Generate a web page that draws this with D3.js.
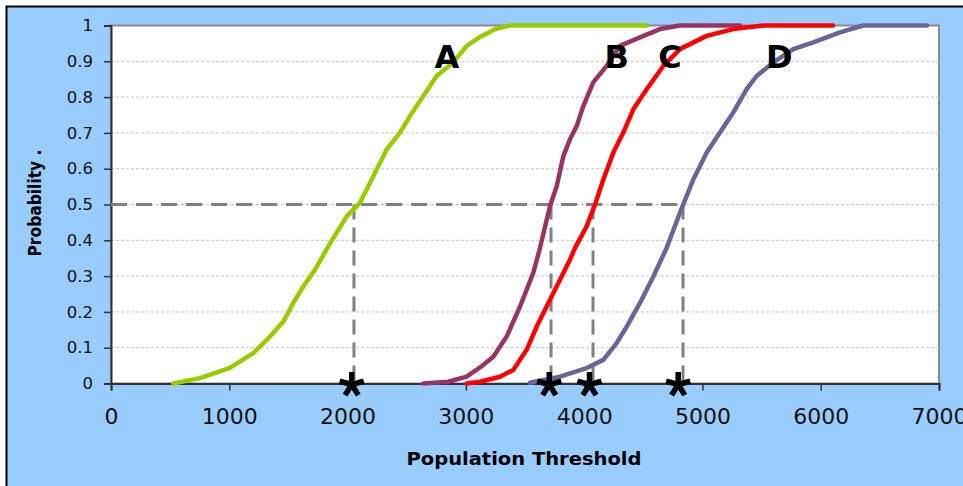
<!DOCTYPE html>
<html>
<head>
<meta charset="utf-8">
<script src="https://cdn.jsdelivr.net/npm/d3@7"></script>
<style>
html,body{margin:0;padding:0;background:#fff;overflow:hidden;}
svg{display:block;}
</style>
</head>
<body>
<svg id="chart" width="963" height="486"></svg>
<script>
// ---- data ----
const xTicks = [0, 1000, 2000, 3000, 4000, 5000, 6000, 7000];
const yTicks = [0, 0.1, 0.2, 0.3, 0.4, 0.5, 0.6, 0.7, 0.8, 0.9, 1];
const seriesNames = ["A", "B", "C", "D"];
const seriesColors = ["#99CC00", "#993366", "#FF0000", "#666699"];

const aX = [527, 752, 1000, 1203, 1344, 1457, 1541, 1626, 1725, 1837, 1993, 2105, 2218, 2331, 2443, 2528, 2640, 2753, 2894, 3007, 3120, 3250, 3373, 4531];
const aP = [0.00, 0.015, 0.043, 0.085, 0.131, 0.173, 0.225, 0.271, 0.318, 0.383, 0.467, 0.505, 0.579, 0.654, 0.701, 0.747, 0.803, 0.859, 0.897, 0.943, 0.968, 0.99, 1.0, 1.0];

const bX = [2640, 2850, 3007, 3120, 3232, 3345, 3458, 3570, 3627, 3711, 3768, 3824, 3880, 3937, 3993, 4077, 4190, 4303, 4472, 4641, 4810, 5318];
const bP = [0.00, 0.005, 0.019, 0.045, 0.075, 0.131, 0.215, 0.309, 0.379, 0.495, 0.551, 0.635, 0.682, 0.719, 0.775, 0.841, 0.887, 0.943, 0.967, 0.990, 1.0, 1.0];

const cX = [3007, 3120, 3289, 3401, 3514, 3599, 3683, 3796, 3880, 3923, 4021, 4092, 4162, 4247, 4331, 4416, 4529, 4669, 4810, 5036, 5261, 5515, 6104];
const cP = [0.00, 0.005, 0.019, 0.038, 0.094, 0.159, 0.215, 0.290, 0.346, 0.379, 0.439, 0.500, 0.570, 0.645, 0.701, 0.766, 0.822, 0.887, 0.934, 0.971, 0.990, 1.0, 1.0];

const dX = [3542, 3796, 4021, 4162, 4275, 4360, 4472, 4585, 4698, 4810, 4923, 5036, 5148, 5261, 5374, 5458, 5600, 5768, 5937, 6163, 6360, 6898];
const dP = [0.002, 0.019, 0.043, 0.066, 0.113, 0.159, 0.225, 0.299, 0.379, 0.477, 0.570, 0.645, 0.701, 0.757, 0.822, 0.859, 0.897, 0.934, 0.953, 0.981, 1.0, 1.0];

const medianX = [2054, 3720, 4075, 4836];   // dashed drop lines at p = 0.5
const starX = [2035, 3705, 4045, 4795];     // asterisk markers on the axis
const labelX = [2840, 4275, 4725, 5650];    // letter label positions
const labelP = [0.915, 0.915, 0.915, 0.915];
const medianP = 0.5;

const xTitle = "Population Threshold";
const yTitle = "Probability .";

// ---- drawing ----
const svg = d3.select("#chart");
const W = 963, H = 486;
const L = 111, R = 939, T = 25.5, B = 383.5;

const x = d3.scaleLinear().domain([0, 7000]).range([L, R]);
const y = d3.scaleLinear().domain([0, 1]).range([B, T]);

// outer frame
svg.append("rect").attr("x", 0).attr("y", 0).attr("width", W).attr("height", H).attr("fill", "#fff");
svg.append("rect").attr("x", 6.5).attr("y", 6.5).attr("width", W + 20).attr("height", H + 20)
  .attr("fill", "#99CCFF").attr("stroke", "#000").attr("stroke-width", 2);

// plot area
svg.append("rect").attr("x", L).attr("y", T).attr("width", R - L).attr("height", B - T)
  .attr("fill", "#fff").attr("stroke", "#8a8a8a").attr("stroke-width", 2);

// gridlines
svg.append("g").selectAll("line").data(yTicks.filter(d => d > 0 && d < 1)).join("line")
  .attr("x1", L).attr("x2", R).attr("y1", d => y(d)).attr("y2", d => y(d))
  .attr("stroke", "#c4c4c4").attr("stroke-width", 1).attr("stroke-dasharray", "3,2");

// y axis
const yAxis = svg.append("g").attr("transform", `translate(${L},0)`)
  .call(d3.axisLeft(y).tickValues(yTicks).tickSize(7).tickPadding(11).tickFormat(d => d3.format("~g")(d)));
yAxis.select(".domain").attr("stroke", "#333").attr("stroke-width", 2);
yAxis.selectAll(".tick line").attr("stroke", "#333").attr("stroke-width", 1.5);
yAxis.selectAll(".tick text").attr("font-family", "DejaVu Sans, Verdana, sans-serif")
  .attr("font-size", 16.5).attr("fill", "#111");

// x axis
const xAxis = svg.append("g").attr("transform", `translate(0,${B})`)
  .call(d3.axisBottom(x).tickValues(xTicks).tickSize(7).tickPadding(18).tickFormat(d3.format("d")));
xAxis.select(".domain").attr("stroke", "#333").attr("stroke-width", 2);
xAxis.selectAll(".tick line").attr("stroke", "#333").attr("stroke-width", 1.5);
xAxis.selectAll(".tick text").attr("font-family", "DejaVu Sans, Verdana, sans-serif")
  .attr("font-size", 22).attr("fill", "#111").attr("dy", "0.71em");

// dashed median lines
const dashG = svg.append("g").attr("stroke", "#808080").attr("stroke-width", 3).attr("fill", "none");
dashG.append("line").attr("x1", x(0)).attr("x2", x(d3.max(medianX))).attr("y1", y(medianP)).attr("y2", y(medianP))
  .attr("stroke-dasharray", "16,9");
dashG.selectAll("line.v").data(medianX).join("line").attr("class", "v")
  .attr("x1", d => x(d)).attr("x2", d => x(d)).attr("y1", y(medianP)).attr("y2", y(0))
  .attr("stroke-dasharray", "15,8");

// curves
const seriesData = [[aX, aP], [bX, bP], [cX, cP], [dX, dP]];
const line = d3.line().x(d => x(d[0])).y(d => y(d[1])).curve(d3.curveLinear);
svg.append("g").selectAll("path").data(seriesData).join("path")
  .attr("d", s => line(s[0].map((v, i) => [v, s[1][i]])))
  .attr("fill", "none").attr("stroke", (s, i) => seriesColors[i])
  .attr("stroke-width", 4.5).attr("stroke-linejoin", "round").attr("stroke-linecap", "round");

// series letters
svg.append("g").selectAll("text").data(seriesNames).join("text")
  .attr("x", (d, i) => x(labelX[i])).attr("y", (d, i) => y(labelP[i]) + 12)
  .attr("text-anchor", "middle").attr("font-family", "DejaVu Sans, Verdana, sans-serif")
  .attr("font-weight", "bold").attr("font-size", 32).attr("fill", "#000").text(d => d);

// asterisk markers
const starPath = (() => {
  const r = 12.5; let p = "";
  [-90, -15, -165, 58, 122].forEach(a => {
    const t = a * Math.PI / 180;
    p += `M0,0L${(r * Math.cos(t)).toFixed(2)},${(r * Math.sin(t)).toFixed(2)}`;
  });
  return p;
})();
svg.append("g").selectAll("path").data(starX).join("path")
  .attr("transform", d => `translate(${x(d)},${y(0) + 1})`)
  .attr("d", starPath).attr("stroke", "#000").attr("stroke-width", 5.5).attr("fill", "none");

// axis titles
svg.append("text").attr("x", 524).attr("y", 465).attr("text-anchor", "middle")
  .attr("font-family", "DejaVu Sans, Verdana, sans-serif").attr("font-weight", "bold")
  .attr("font-size", 17.5).attr("textLength", 235).attr("lengthAdjust", "spacingAndGlyphs")
  .attr("fill", "#000").text(xTitle);

svg.append("text").attr("transform", "translate(41,203) rotate(-90)").attr("text-anchor", "middle")
  .attr("font-family", "DejaVu Sans, Verdana, sans-serif").attr("font-weight", "bold")
  .attr("font-size", 17.5).attr("textLength", 107).attr("lengthAdjust", "spacingAndGlyphs")
  .attr("fill", "#000").text(yTitle);
</script>
</body>
</html>
